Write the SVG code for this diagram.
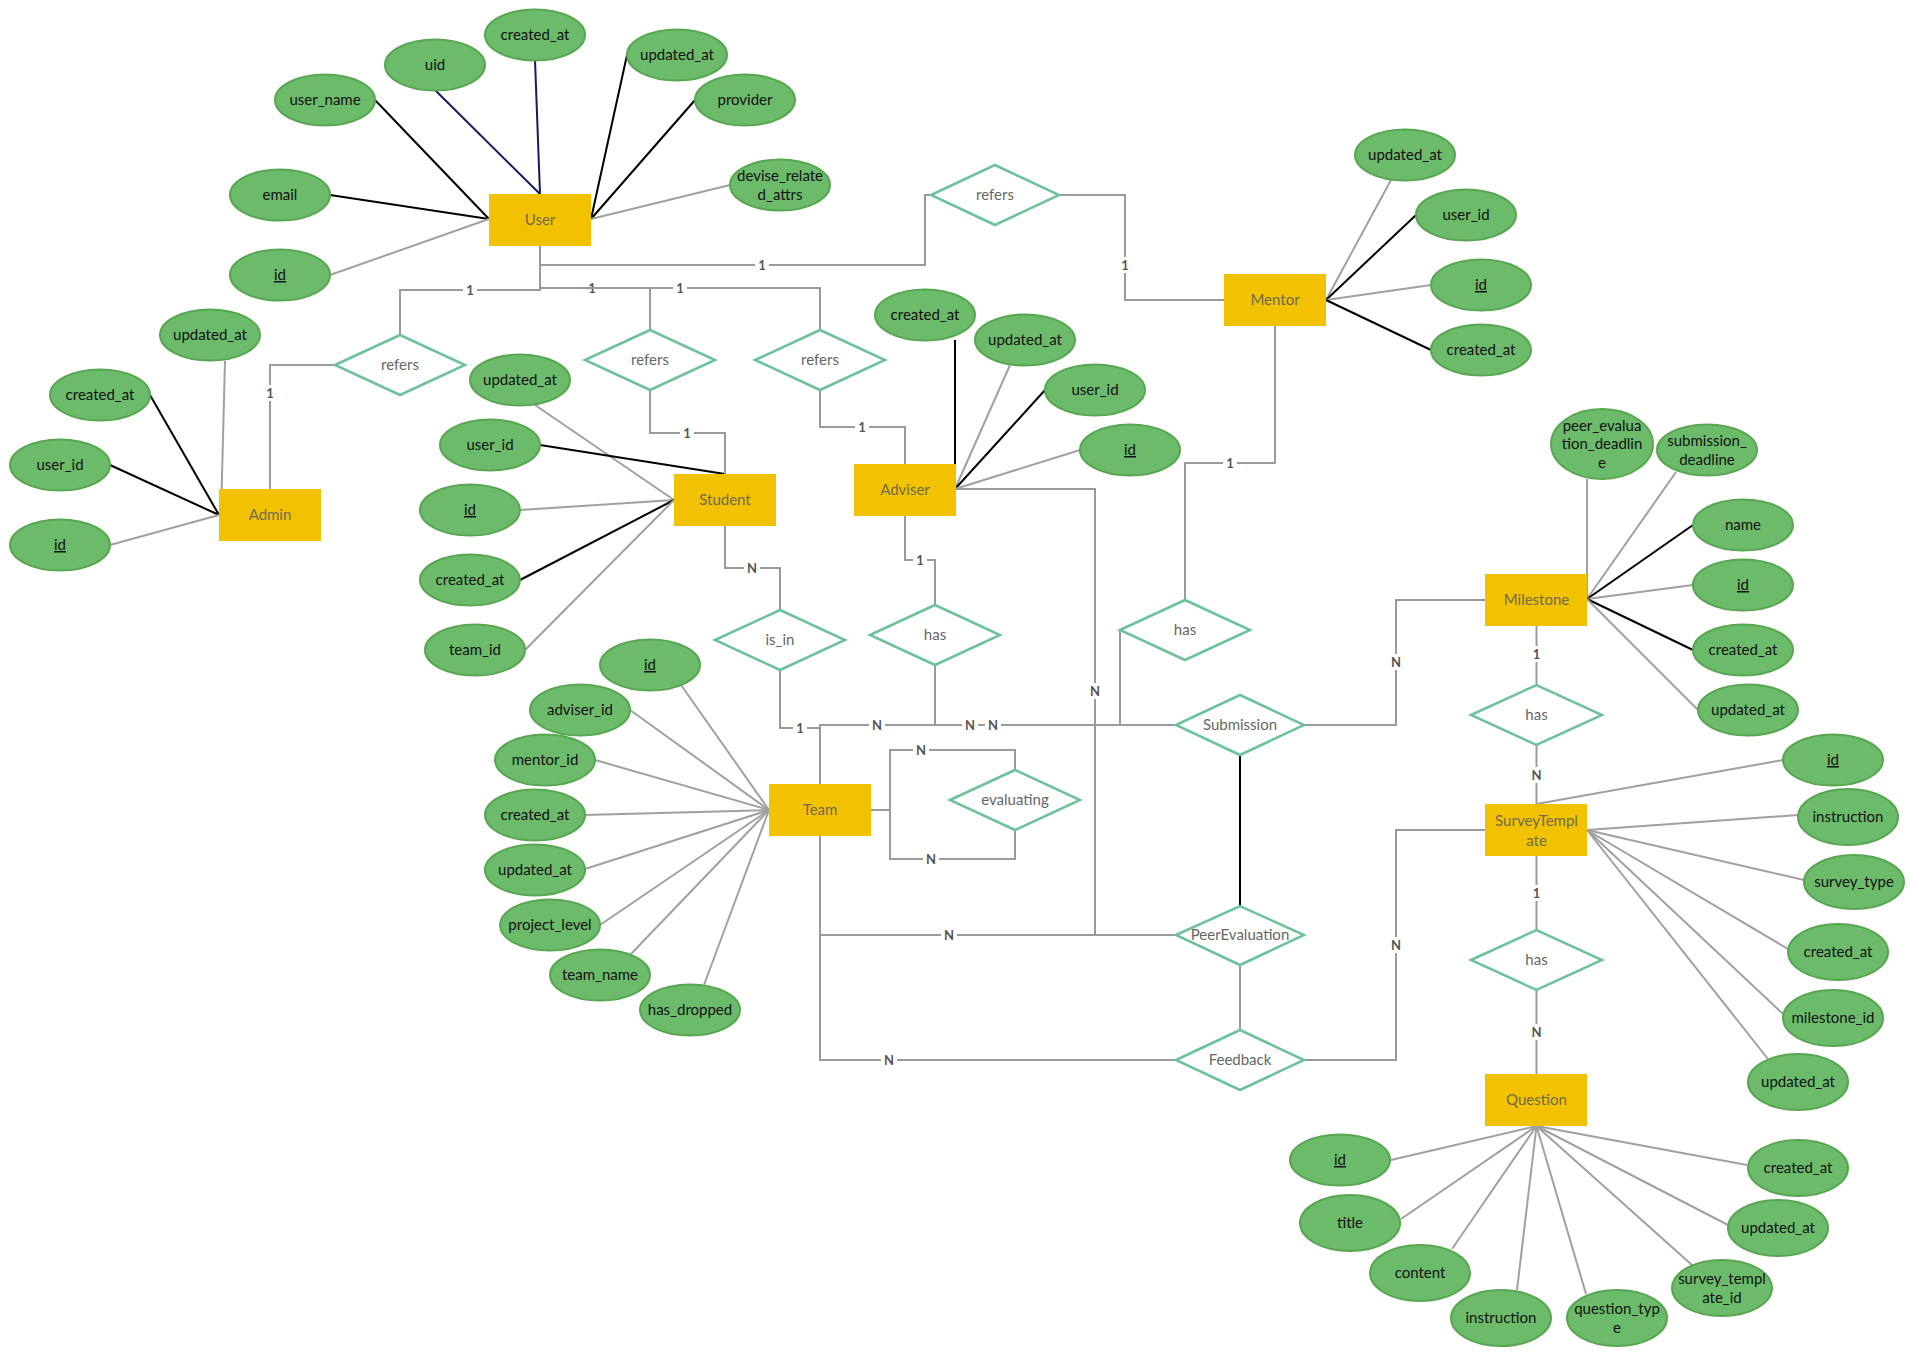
<svg xmlns="http://www.w3.org/2000/svg" width="1910" height="1355" viewBox="0 0 1910 1355">
<style>
.bg{fill:#ffffff}
.att ellipse{fill:#6cbb6a;stroke:#58a651;stroke-width:2}
.att text{font-family:Lato,"Liberation Sans",sans-serif;font-size:15px;fill:#111;text-anchor:middle}
.ent rect{fill:#f2c200}
.ent text{font-family:Lato,"Liberation Sans",sans-serif;font-size:15px;fill:#6f6a55;text-anchor:middle}
.rel polygon{fill:#ffffff;stroke:#6cc29a;stroke-width:2.5}
.rel text{font-family:Lato,"Liberation Sans",sans-serif;font-size:15px;fill:#666;text-anchor:middle}
.u{text-decoration:underline}
#connectors polyline,#connectors line{fill:none;stroke-width:2}
.g{stroke:#a0a0a0}
.k{stroke:#000}
.n{stroke:#141a5c}
.c{stroke:#9a9a9a}
.lb rect{fill:#fff}
.lb text{font-family:Lato,"Liberation Sans",sans-serif;font-size:13px;font-weight:bold;fill:#555;text-anchor:middle}
</style>
<rect class="bg" x="0" y="0" width="1910" height="1355"/>
<g id="connectors">
<!-- attribute lines: User -->
<line class="k" x1="375" y1="100" x2="489" y2="219"/>
<line class="k" x1="330" y1="195" x2="489" y2="219"/>
<line class="g" x1="330" y1="275" x2="489" y2="219"/>
<line class="n" x1="435" y1="90" x2="540" y2="194"/>
<line class="n" x1="535" y1="60" x2="540" y2="194"/>
<line class="k" x1="627" y1="55" x2="591" y2="219"/>
<line class="k" x1="695" y1="100" x2="591" y2="219"/>
<line class="g" x1="730" y1="185" x2="591" y2="219"/>
<!-- Admin -->
<line class="g" x1="225" y1="361" x2="221" y2="515"/>
<line class="k" x1="150" y1="395" x2="219" y2="515"/>
<line class="k" x1="110" y1="465" x2="219" y2="515"/>
<line class="g" x1="110" y1="545" x2="219" y2="515"/>
<!-- Student -->
<line class="g" x1="535" y1="405" x2="674" y2="500"/>
<line class="k" x1="540" y1="445" x2="725" y2="474"/>
<line class="g" x1="520" y1="510" x2="674" y2="500"/>
<line class="k" x1="520" y1="580" x2="674" y2="500"/>
<line class="g" x1="525" y1="650" x2="674" y2="500"/>
<!-- Adviser -->
<line class="k" x1="955" y1="340" x2="955" y2="489"/>
<line class="g" x1="1010" y1="365" x2="955" y2="489"/>
<line class="k" x1="1045" y1="390" x2="955" y2="489"/>
<line class="g" x1="1080" y1="450" x2="955" y2="489"/>
<!-- Mentor -->
<line class="g" x1="1391" y1="180" x2="1326" y2="300"/>
<line class="k" x1="1416" y1="215" x2="1326" y2="300"/>
<line class="g" x1="1431" y1="285" x2="1326" y2="300"/>
<line class="k" x1="1431" y1="350" x2="1326" y2="300"/>
<!-- Milestone -->
<line class="g" x1="1587" y1="479" x2="1587" y2="599"/>
<line class="g" x1="1676" y1="472" x2="1587" y2="599"/>
<line class="k" x1="1693" y1="525" x2="1587" y2="599"/>
<line class="g" x1="1693" y1="585" x2="1587" y2="599"/>
<line class="k" x1="1693" y1="650" x2="1587" y2="599"/>
<line class="g" x1="1698" y1="710" x2="1587" y2="599"/>
<!-- Team -->
<line class="g" x1="681" y1="685" x2="769" y2="810"/>
<line class="g" x1="630" y1="710" x2="769" y2="810"/>
<line class="g" x1="595" y1="760" x2="769" y2="810"/>
<line class="g" x1="585" y1="815" x2="769" y2="810"/>
<line class="g" x1="585" y1="869" x2="769" y2="810"/>
<line class="g" x1="600" y1="925" x2="769" y2="810"/>
<line class="g" x1="631" y1="954" x2="769" y2="810"/>
<line class="g" x1="704" y1="985" x2="769" y2="810"/>
<!-- SurveyTemplate -->
<line class="g" x1="1783" y1="760" x2="1536.5" y2="804"/>
<line class="g" x1="1798" y1="815" x2="1587" y2="830"/>
<line class="g" x1="1804" y1="880" x2="1587" y2="830"/>
<line class="g" x1="1788" y1="949" x2="1587" y2="830"/>
<line class="g" x1="1783" y1="1014" x2="1587" y2="830"/>
<line class="g" x1="1768" y1="1059" x2="1587" y2="830"/>
<!-- Question -->
<line class="g" x1="1391" y1="1160" x2="1536.5" y2="1126"/>
<line class="g" x1="1401" y1="1219" x2="1536.5" y2="1126"/>
<line class="g" x1="1452" y1="1249" x2="1536.5" y2="1126"/>
<line class="g" x1="1517" y1="1290" x2="1536.5" y2="1126"/>
<line class="g" x1="1586" y1="1294" x2="1536.5" y2="1126"/>
<line class="g" x1="1692" y1="1265" x2="1536.5" y2="1126"/>
<line class="g" x1="1728" y1="1225" x2="1536.5" y2="1126"/>
<line class="g" x1="1747" y1="1165" x2="1536.5" y2="1126"/>
<!-- relationship connectors -->
<polyline class="c" points="540,246 540,290 400,290 400,335"/>
<g class="lb"><rect x="463" y="282" width="14" height="16"/><text x="470" y="295">1</text></g>
<polyline class="c" points="335,365 270,365 270,489"/>
<g class="lb"><rect x="263" y="385" width="14" height="16"/><text x="270" y="398">1</text></g>
<polyline class="c" points="540,265 925,265 925,195 931,195"/>
<g class="lb"><rect x="755" y="257" width="14" height="16"/><text x="762" y="270">1</text></g>
<polyline class="c" points="1059,195 1125,195 1125,300 1224,300"/>
<g class="lb"><rect x="1118" y="257" width="14" height="16"/><text x="1125" y="270">1</text></g>
<polyline class="c" points="540,288 650,288 650,330"/>
<g class="lb"><rect x="585" y="280" width="14" height="16"/><text x="592" y="293">1</text></g>
<polyline class="c" points="650,390 650,433 725,433 725,474"/>
<g class="lb"><rect x="680" y="425" width="14" height="16"/><text x="687" y="438">1</text></g>
<polyline class="c" points="540,288 820,288 820,330"/>
<g class="lb"><rect x="673" y="280" width="14" height="16"/><text x="680" y="293">1</text></g>
<polyline class="c" points="820,390 820,427 905,427 905,464"/>
<g class="lb"><rect x="855" y="419" width="14" height="16"/><text x="862" y="432">1</text></g>
<polyline class="c" points="725,526 725,568 780,568 780,610"/>
<g class="lb"><rect x="744" y="560" width="16" height="16"/><text x="752" y="573">N</text></g>
<polyline class="c" points="780,670 780,728 820,728 820,784"/>
<g class="lb"><rect x="793" y="720" width="14" height="16"/><text x="800" y="733">1</text></g>
<polyline class="c" points="905,516 905,560 935,560 935,605"/>
<g class="lb"><rect x="913" y="552" width="14" height="16"/><text x="920" y="565">1</text></g>
<polyline class="c" points="935,665 935,725 820,725 820,784"/>
<polyline class="c" points="1275,326 1275,463 1185,463 1185,600"/>
<g class="lb"><rect x="1223" y="455" width="14" height="16"/><text x="1230" y="468">1</text></g>
<polyline class="c" points="1120,630 1120,725 820,725"/>
<polyline class="c" points="820,784 820,725 1176,725"/>
<g class="lb"><rect x="869" y="717" width="16" height="16"/><text x="877" y="730">N</text></g>
<g class="lb"><rect x="962" y="717" width="16" height="16"/><text x="970" y="730">N</text></g>
<g class="lb"><rect x="985" y="717" width="16" height="16"/><text x="993" y="730">N</text></g>
<polyline class="c" points="956,489 1095,489 1095,935 1176,935"/>
<g class="lb"><rect x="1087" y="683" width="16" height="16"/><text x="1095" y="696">N</text></g>
<polyline class="c" points="820,836 820,935 1176,935"/>
<g class="lb"><rect x="941" y="927" width="16" height="16"/><text x="949" y="940">N</text></g>
<polyline class="c" points="820,836 820,1060 1176,1060"/>
<g class="lb"><rect x="881" y="1052" width="16" height="16"/><text x="889" y="1065">N</text></g>
<polyline class="c" points="1304,725 1396,725 1396,600 1485,600"/>
<g class="lb"><rect x="1388" y="654" width="16" height="16"/><text x="1396" y="667">N</text></g>
<polyline class="c" points="1536.5,626 1536.5,685"/>
<g class="lb"><rect x="1529.5" y="646" width="14" height="16"/><text x="1536.5" y="659">1</text></g>
<polyline class="c" points="1536.5,745 1536.5,804"/>
<g class="lb"><rect x="1528.5" y="767" width="16" height="16"/><text x="1536.5" y="780">N</text></g>
<polyline class="c" points="1536.5,856 1536.5,930"/>
<g class="lb"><rect x="1529.5" y="885" width="14" height="16"/><text x="1536.5" y="898">1</text></g>
<polyline class="c" points="1536.5,990 1536.5,1074"/>
<g class="lb"><rect x="1528.5" y="1024" width="16" height="16"/><text x="1536.5" y="1037">N</text></g>
<polyline class="c" points="1485,830 1396,830 1396,1060 1304,1060"/>
<g class="lb"><rect x="1388" y="937" width="16" height="16"/><text x="1396" y="950">N</text></g>
<polyline class="c" points="871,810 890,810 890,750 1015,750 1015,770"/>
<g class="lb"><rect x="913" y="742" width="16" height="16"/><text x="921" y="755">N</text></g>
<polyline class="c" points="1015,830 1015,859 890,859 890,810"/>
<g class="lb"><rect x="923" y="851" width="16" height="16"/><text x="931" y="864">N</text></g>
<line class="k" x1="1240" y1="755" x2="1240" y2="906"/>
<line class="c" x1="1240" y1="965" x2="1240" y2="1030"/>
</g>
<!-- Entities -->
<g id="User" class="ent"><rect x="489" y="194" width="102" height="52"/><text x="540" y="225">User</text></g>
<g id="Admin" class="ent"><rect x="219" y="489" width="102" height="52"/><text x="270" y="520">Admin</text></g>
<g id="Student" class="ent"><rect x="674" y="474" width="102" height="52"/><text x="725" y="505">Student</text></g>
<g id="Adviser" class="ent"><rect x="854" y="464" width="102" height="52"/><text x="905" y="495">Adviser</text></g>
<g id="Mentor" class="ent"><rect x="1224" y="274" width="102" height="52"/><text x="1275" y="305">Mentor</text></g>
<g id="Team" class="ent"><rect x="769" y="784" width="102" height="52"/><text x="820" y="815">Team</text></g>
<g id="Milestone" class="ent"><rect x="1485" y="574" width="102" height="52"/><text x="1536.5" y="605">Milestone</text></g>
<g id="SurveyTemplate" class="ent"><rect x="1485" y="804" width="102" height="52"/><text x="1536.5" y="826">SurveyTempl</text><text x="1536.5" y="846">ate</text></g>
<g id="Question" class="ent"><rect x="1485" y="1074" width="102" height="52"/><text x="1536.5" y="1105">Question</text></g>
<!-- Relationships -->
<g id="rel-refers-admin" class="rel"><polygon points="335,365 400,335 465,365 400,395"/><text x="400" y="370">refers</text></g>
<g id="rel-refers-student" class="rel"><polygon points="585,360 650,330 715,360 650,390"/><text x="650" y="365">refers</text></g>
<g id="rel-refers-adviser" class="rel"><polygon points="755,360 820,330 885,360 820,390"/><text x="820" y="365">refers</text></g>
<g id="rel-refers-mentor" class="rel"><polygon points="931,195 995,165 1059,195 995,225"/><text x="995" y="200">refers</text></g>
<g id="rel-is_in" class="rel"><polygon points="715,640 780,610 845,640 780,670"/><text x="780" y="645">is_in</text></g>
<g id="rel-has-adviser" class="rel"><polygon points="870,635 935,605 1000,635 935,665"/><text x="935" y="640">has</text></g>
<g id="rel-has-mentor" class="rel"><polygon points="1120,630 1185,600 1250,630 1185,660"/><text x="1185" y="635">has</text></g>
<g id="rel-evaluating" class="rel"><polygon points="950,800 1015,770 1080,800 1015,830"/><text x="1015" y="805">evaluating</text></g>
<g id="rel-Submission" class="rel"><polygon points="1176,725 1240,695 1304,725 1240,755"/><text x="1240" y="730">Submission</text></g>
<g id="rel-PeerEvaluation" class="rel"><polygon points="1176,935 1240,906 1304,935 1240,965"/><text x="1240" y="940">PeerEvaluation</text></g>
<g id="rel-Feedback" class="rel"><polygon points="1176,1060 1240,1030 1304,1060 1240,1090"/><text x="1240" y="1065">Feedback</text></g>
<g id="rel-has-milestone" class="rel"><polygon points="1471,715 1536.5,685 1602,715 1536.5,745"/><text x="1536.5" y="720">has</text></g>
<g id="rel-has-survey" class="rel"><polygon points="1471,960 1536.5,930 1602,960 1536.5,990"/><text x="1536.5" y="965">has</text></g>
<!-- Attributes: User -->
<g id="user-user_name" class="att"><ellipse cx="325" cy="100" rx="50" ry="25.5"/><text x="325" y="105">user_name</text></g>
<g id="user-uid" class="att"><ellipse cx="435" cy="65" rx="50" ry="25.5"/><text x="435" y="70">uid</text></g>
<g id="user-created_at" class="att"><ellipse cx="535" cy="35" rx="50" ry="25.5"/><text x="535" y="40">created_at</text></g>
<g id="user-updated_at" class="att"><ellipse cx="677" cy="55" rx="50" ry="25.5"/><text x="677" y="60">updated_at</text></g>
<g id="user-provider" class="att"><ellipse cx="745" cy="100" rx="50" ry="25.5"/><text x="745" y="105">provider</text></g>
<g id="user-devise" class="att"><ellipse cx="780" cy="185" rx="50" ry="25.5"/><text x="780" y="181">devise_relate</text><text x="780" y="200">d_attrs</text></g>
<g id="user-email" class="att"><ellipse cx="280" cy="195" rx="50" ry="25.5"/><text x="280" y="200">email</text></g>
<g id="user-id" class="att"><ellipse cx="280" cy="275" rx="50" ry="25.5"/><text class="u" x="280" y="280">id</text></g>
<!-- Admin -->
<g id="admin-updated_at" class="att"><ellipse cx="210" cy="335" rx="50" ry="25.5"/><text x="210" y="340">updated_at</text></g>
<g id="admin-created_at" class="att"><ellipse cx="100" cy="395" rx="50" ry="25.5"/><text x="100" y="400">created_at</text></g>
<g id="admin-user_id" class="att"><ellipse cx="60" cy="465" rx="50" ry="25.5"/><text x="60" y="470">user_id</text></g>
<g id="admin-id" class="att"><ellipse cx="60" cy="545" rx="50" ry="25.5"/><text class="u" x="60" y="550">id</text></g>
<!-- Student -->
<g id="student-updated_at" class="att"><ellipse cx="520" cy="380" rx="50" ry="25.5"/><text x="520" y="385">updated_at</text></g>
<g id="student-user_id" class="att"><ellipse cx="490" cy="445" rx="50" ry="25.5"/><text x="490" y="450">user_id</text></g>
<g id="student-id" class="att"><ellipse cx="470" cy="510" rx="50" ry="25.5"/><text class="u" x="470" y="515">id</text></g>
<g id="student-created_at" class="att"><ellipse cx="470" cy="580" rx="50" ry="25.5"/><text x="470" y="585">created_at</text></g>
<g id="student-team_id" class="att"><ellipse cx="475" cy="650" rx="50" ry="25.5"/><text x="475" y="655">team_id</text></g>
<!-- Adviser -->
<g id="adviser-created_at" class="att"><ellipse cx="925" cy="315" rx="50" ry="25.5"/><text x="925" y="320">created_at</text></g>
<g id="adviser-updated_at" class="att"><ellipse cx="1025" cy="340" rx="50" ry="25.5"/><text x="1025" y="345">updated_at</text></g>
<g id="adviser-user_id" class="att"><ellipse cx="1095" cy="390" rx="50" ry="25.5"/><text x="1095" y="395">user_id</text></g>
<g id="adviser-id" class="att"><ellipse cx="1130" cy="450" rx="50" ry="25.5"/><text class="u" x="1130" y="455">id</text></g>
<!-- Mentor -->
<g id="mentor-updated_at" class="att"><ellipse cx="1405" cy="155" rx="50" ry="25.5"/><text x="1405" y="160">updated_at</text></g>
<g id="mentor-user_id" class="att"><ellipse cx="1466" cy="215" rx="50" ry="25.5"/><text x="1466" y="220">user_id</text></g>
<g id="mentor-id" class="att"><ellipse cx="1481" cy="285" rx="50" ry="25.5"/><text class="u" x="1481" y="290">id</text></g>
<g id="mentor-created_at" class="att"><ellipse cx="1481" cy="350" rx="50" ry="25.5"/><text x="1481" y="355">created_at</text></g>
<!-- Milestone -->
<g id="ms-peer" class="att"><ellipse cx="1602" cy="444" rx="51" ry="35"/><text x="1602" y="431">peer_evalua</text><text x="1602" y="449">tion_deadlin</text><text x="1602" y="468">e</text></g>
<g id="ms-submission" class="att"><ellipse cx="1707" cy="450" rx="50" ry="25.5"/><text x="1707" y="446">submission_</text><text x="1707" y="465">deadline</text></g>
<g id="ms-name" class="att"><ellipse cx="1743" cy="525" rx="50" ry="25.5"/><text x="1743" y="530">name</text></g>
<g id="ms-id" class="att"><ellipse cx="1743" cy="585" rx="50" ry="25.5"/><text class="u" x="1743" y="590">id</text></g>
<g id="ms-created_at" class="att"><ellipse cx="1743" cy="650" rx="50" ry="25.5"/><text x="1743" y="655">created_at</text></g>
<g id="ms-updated_at" class="att"><ellipse cx="1748" cy="710" rx="50" ry="25.5"/><text x="1748" y="715">updated_at</text></g>
<!-- Team -->
<g id="team-id" class="att"><ellipse cx="650" cy="665" rx="50" ry="25.5"/><text class="u" x="650" y="670">id</text></g>
<g id="team-adviser_id" class="att"><ellipse cx="580" cy="710" rx="50" ry="25.5"/><text x="580" y="715">adviser_id</text></g>
<g id="team-mentor_id" class="att"><ellipse cx="545" cy="760" rx="50" ry="25.5"/><text x="545" y="765">mentor_id</text></g>
<g id="team-created_at" class="att"><ellipse cx="535" cy="815" rx="50" ry="25.5"/><text x="535" y="820">created_at</text></g>
<g id="team-updated_at" class="att"><ellipse cx="535" cy="870" rx="50" ry="25.5"/><text x="535" y="875">updated_at</text></g>
<g id="team-project_level" class="att"><ellipse cx="550" cy="925" rx="50" ry="25.5"/><text x="550" y="930">project_level</text></g>
<g id="team-team_name" class="att"><ellipse cx="600" cy="975" rx="50" ry="25.5"/><text x="600" y="980">team_name</text></g>
<g id="team-has_dropped" class="att"><ellipse cx="690" cy="1010" rx="50" ry="25.5"/><text x="690" y="1015">has_dropped</text></g>
<!-- SurveyTemplate -->
<g id="st-id" class="att"><ellipse cx="1833" cy="760" rx="50" ry="25.5"/><text class="u" x="1833" y="765">id</text></g>
<g id="st-instruction" class="att"><ellipse cx="1848" cy="817" rx="50" ry="28"/><text x="1848" y="822">instruction</text></g>
<g id="st-survey_type" class="att"><ellipse cx="1854" cy="882" rx="50" ry="27"/><text x="1854" y="887">survey_type</text></g>
<g id="st-created_at" class="att"><ellipse cx="1838" cy="952" rx="50" ry="28"/><text x="1838" y="957">created_at</text></g>
<g id="st-milestone_id" class="att"><ellipse cx="1833" cy="1018" rx="50" ry="28"/><text x="1833" y="1023">milestone_id</text></g>
<g id="st-updated_at" class="att"><ellipse cx="1798" cy="1082" rx="50" ry="28"/><text x="1798" y="1087">updated_at</text></g>
<!-- Question -->
<g id="q-id" class="att"><ellipse cx="1340" cy="1160" rx="50" ry="25.5"/><text class="u" x="1340" y="1165">id</text></g>
<g id="q-title" class="att"><ellipse cx="1350" cy="1223" rx="50" ry="28"/><text x="1350" y="1228">title</text></g>
<g id="q-content" class="att"><ellipse cx="1420" cy="1273" rx="50" ry="28"/><text x="1420" y="1278">content</text></g>
<g id="q-instruction" class="att"><ellipse cx="1501" cy="1318" rx="50" ry="28"/><text x="1501" y="1323">instruction</text></g>
<g id="q-question_type" class="att"><ellipse cx="1617" cy="1318" rx="50" ry="28"/><text x="1617" y="1314">question_typ</text><text x="1617" y="1333">e</text></g>
<g id="q-survey_template_id" class="att"><ellipse cx="1722" cy="1288" rx="50" ry="28"/><text x="1722" y="1284">survey_templ</text><text x="1722" y="1303">ate_id</text></g>
<g id="q-updated_at" class="att"><ellipse cx="1778" cy="1228" rx="50" ry="28"/><text x="1778" y="1233">updated_at</text></g>
<g id="q-created_at" class="att"><ellipse cx="1798" cy="1168" rx="50" ry="28"/><text x="1798" y="1173">created_at</text></g>
</svg>
